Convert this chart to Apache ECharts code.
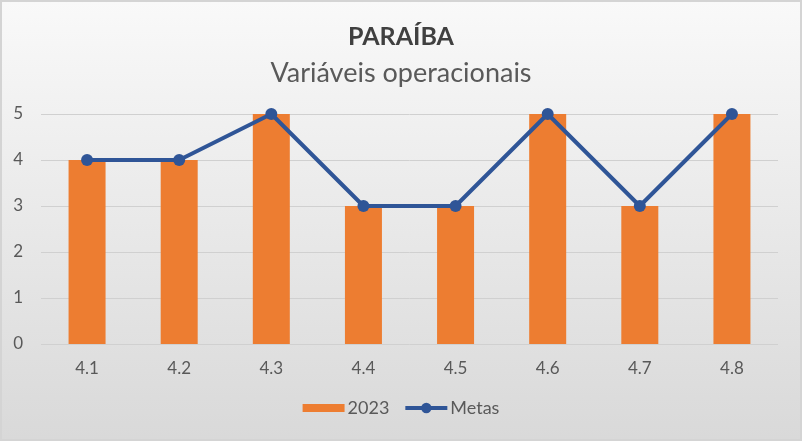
<!DOCTYPE html>
<html><head><meta charset="utf-8">
<script src="https://cdn.jsdelivr.net/npm/echarts@6/dist/echarts.min.js"></script>
<style>html,body{margin:0;padding:0;}#c{width:802px;height:441px;box-sizing:border-box;border:2px solid #d4d4d4;}</style>
</head><body><div id="c"></div>
<script>
const categories = ['4.1','4.2','4.3','4.4','4.5','4.6','4.7','4.8'];
const values2023 = [4,4,5,3,3,5,3,5];
const metas = [4,4,5,3,3,5,3,5];
const chart = echarts.init(document.getElementById('c'));
chart.setOption({
  backgroundColor: new echarts.graphic.LinearGradient(0,0,0,1,[{offset:0,color:'#f9f9f9'},{offset:1,color:'#d9d9d9'}]),
  title: [
    {text:'PARAÍBA', left:'center', top:17, textStyle:{fontFamily:'Lato', fontSize:25, fontWeight:'bold', color:'#404040'}},
    {text:'Variáveis operacionais', left:'center', top:53, textStyle:{fontFamily:'Lato', fontSize:27, fontWeight:'normal', color:'#595959'}}
  ],
  grid:{left:39, right:22, top:112, bottom:95},
  legend:{bottom:17, left:'center', itemGap:14, itemWidth:42, itemHeight:13,
    textStyle:{fontFamily:'Lato', fontSize:18, color:'#595959', padding:[0,0,0,-2]},
    data:[{name:'2023', icon:'path://M0,0h0.01v0.01h-0.01z M0,13h0.01v0.01h-0.01z M0,2.5h42v8h-42z'},
          {name:'Metas', lineStyle:{width:4, color:'#2f5597'}}]},
  xAxis:{type:'category', data:categories, axisLine:{show:false}, axisTick:{show:false},
    axisLabel:{fontFamily:'Lato', fontSize:17, color:'#595959', margin:16}},
  yAxis:{type:'value', min:0, max:5, interval:1, axisLine:{show:false}, axisTick:{show:false},
    axisLabel:{fontFamily:'Lato', fontSize:17, color:'#595959', margin:18}},
  series:[
    {name:'2023', type:'bar', data:values2023, barWidth:37, itemStyle:{color:'#ed7d31'}},
    {name:'Metas', type:'line', data:metas, symbol:'circle', symbolSize:12,
      lineStyle:{color:'#2f5597', width:4}, itemStyle:{color:'#2f5597'}}
  ]
});
chart.setOption({yAxis:{splitLine:{lineStyle:{color:'#d0d0d0', width:1}}}});
</script></body></html>
